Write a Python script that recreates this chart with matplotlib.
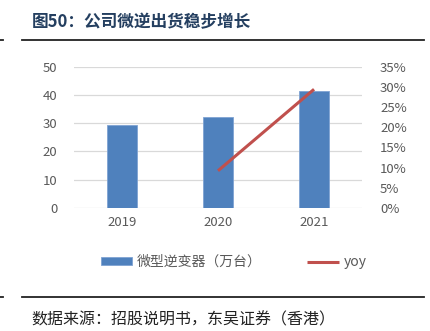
import matplotlib.pyplot as plt
import numpy as np
from matplotlib.ticker import FuncFormatter

plt.rcParams['font.family'] = ['Noto Sans CJK SC', 'DejaVu Sans']

years = ['2019', '2020', '2021']
shipments = [29.4, 32.2, 41.6]        # 微型逆变器（万台）
yoy_years = ['2020', '2021']
yoy = [0.092, 0.295]

grey = '#595959'

fig = plt.figure(figsize=(4.3, 3.31), dpi=100)
ax = fig.add_axes([0.172, 0.3725, 0.67, 0.4245])
ax2 = ax.twinx()

x = np.arange(len(years))
bars = ax.bar(x, shipments, width=0.31, color='#4F81BD', edgecolor='#7FA3D3',
              linewidth=0.6, zorder=3, label='微型逆变器（万台）')
yoy_x = [years.index(y) for y in yoy_years]
line, = ax2.plot(yoy_x, yoy, color='#C0504D', linewidth=2.2, label='yoy',
                 solid_capstyle='butt')

ax.set_xlim(-0.5, 2.5)
ax.set_ylim(0, 50)
ax.set_yticks(range(0, 51, 10))
ax2.set_ylim(0, 0.35)
ax2.set_yticks(np.arange(0, 0.351, 0.05))
ax2.yaxis.set_major_formatter(FuncFormatter(lambda v, p: f'{v*100:.0f}%'))

ax.set_xticks(x)
ax.set_xticklabels(years)
ax.yaxis.grid(True, color='#D9D9D9', linewidth=0.9, zorder=0)
ax.set_axisbelow(True)

for a in (ax, ax2):
    for s in a.spines.values():
        s.set_visible(False)
    a.tick_params(length=0, colors=grey, labelsize=9.5)
ax.tick_params(axis='y', pad=12)
ax2.tick_params(axis='y', pad=13)
ax.tick_params(axis='x', pad=6)

fig.legend([bars, line], ['微型逆变器（万台）', 'yoy'], loc='center',
           bbox_to_anchor=(0.543, 0.208), ncol=2, frameon=False, fontsize=10,
           labelcolor=grey, columnspacing=3.3, handlelength=2.3,
           handleheight=0.45, handletextpad=0.3)

# title, rules and source
fig.text(0.074, 0.933, '图50：公司微逆出货稳步增长', fontsize=12, fontweight='bold',
         color='#243F60', va='center')
for yy in (0.879, 0.103):
    fig.add_artist(plt.Line2D([0.051, 0.986], [yy, yy], color='#222222', linewidth=1.3))
    fig.add_artist(plt.Line2D([0.0, 0.008], [yy, yy], color='#222222', linewidth=1.3))
fig.text(0.074, 0.033, '数据来源：招股说明书，东吴证券（香港）', fontsize=11.5,
         color='#222222', va='center')

fig.savefig('out.png', dpi=100)
